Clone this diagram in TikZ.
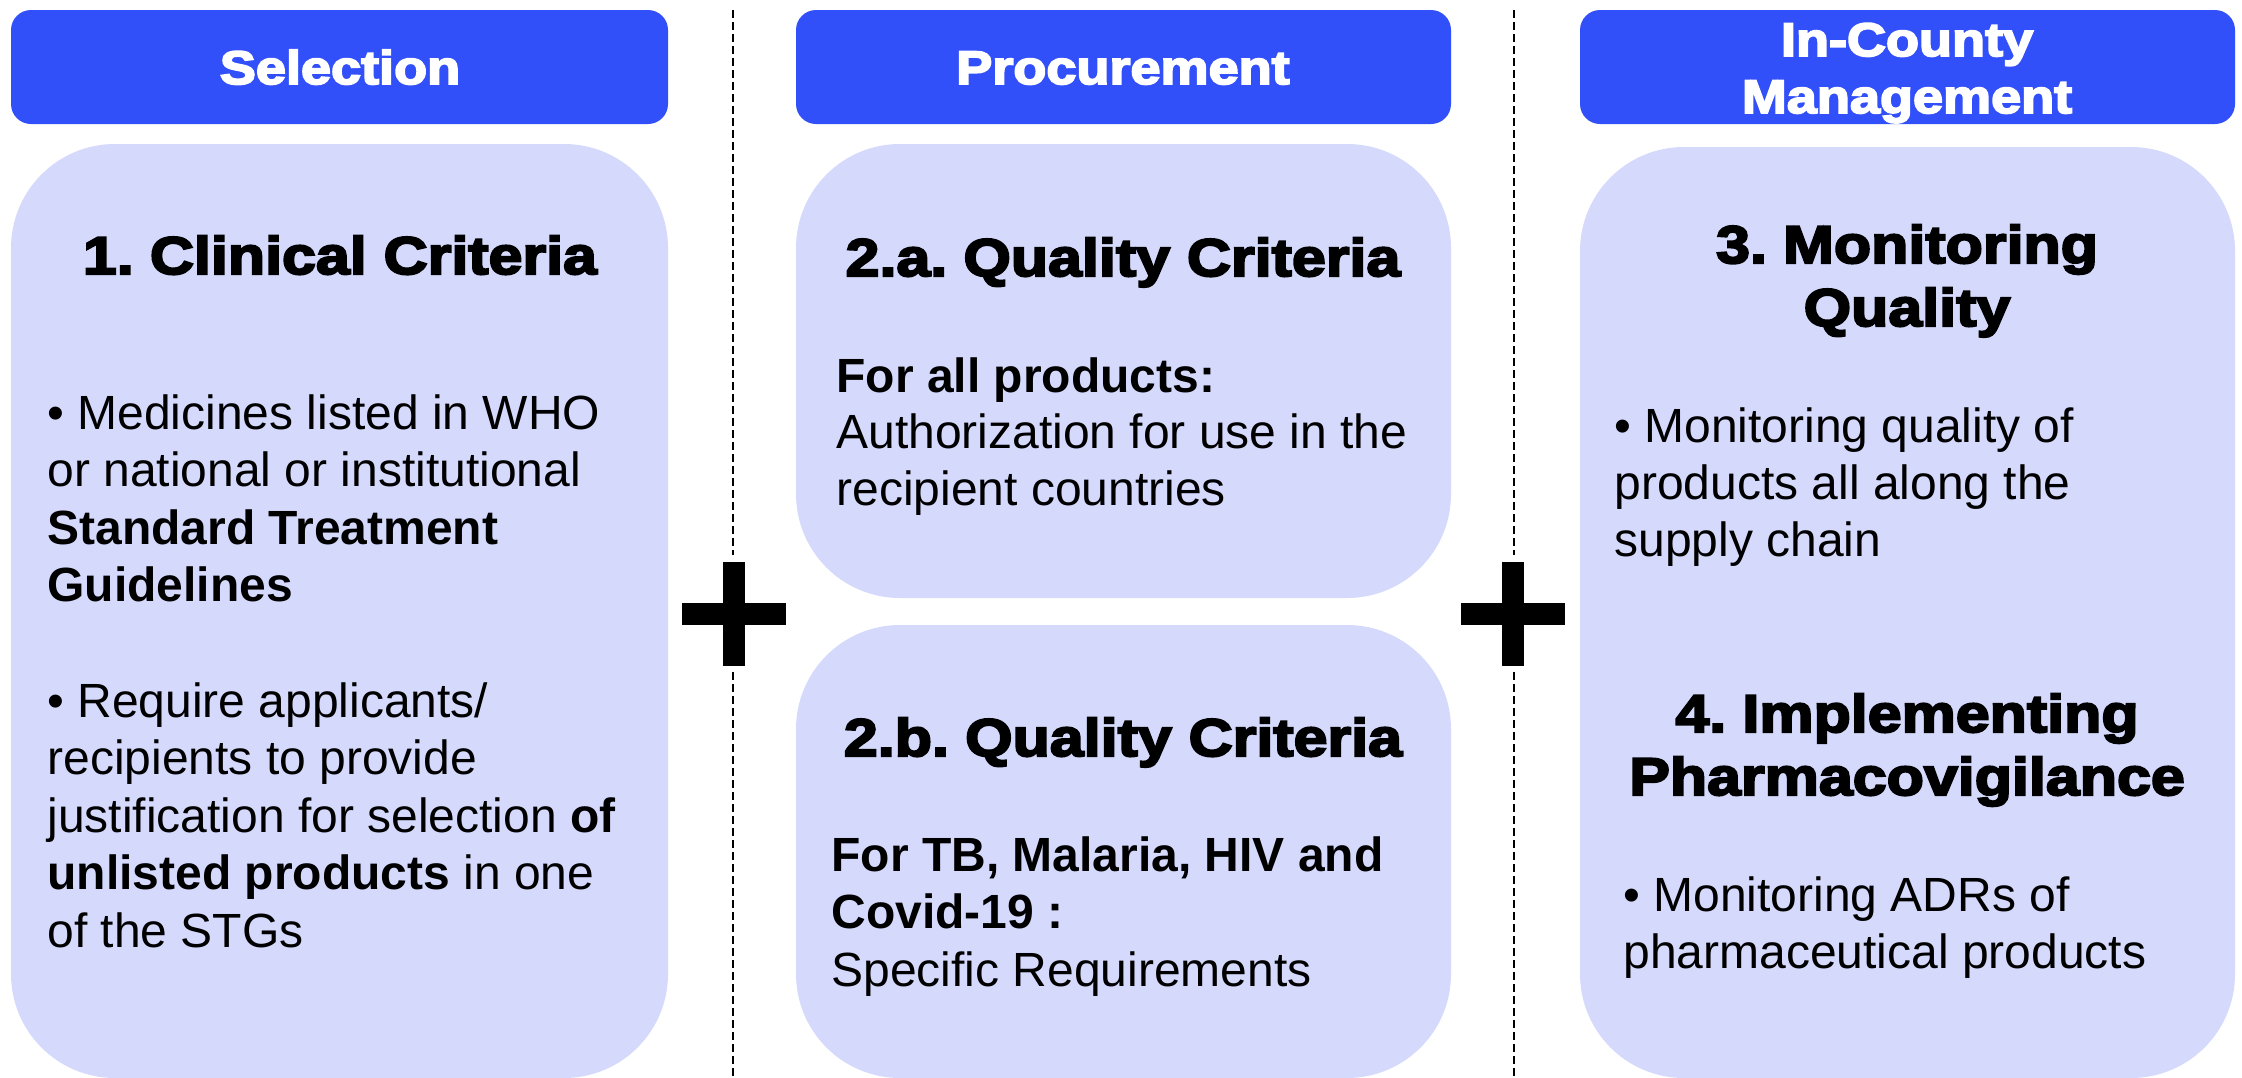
\documentclass[tikz,border=0pt]{standalone}
\usepackage{fontspec}
\setmainfont{Liberation Sans}
\newfontfamily\heavyfam{Liberation Sans}[BoldFeatures={FakeBold=4,FakeStretch=1.15}]
\definecolor{hdrblue}{HTML}{3250FA}
\definecolor{boxfill}{HTML}{D5DAFD}
\begin{document}
\begin{tikzpicture}[x=0.5pt,y=-0.5pt,
 hdr/.style={fill=hdrblue, rounded corners=10pt},
 panel/.style={fill=boxfill, rounded corners=52pt},
 hdrtext/.style={text=white, font=\heavyfam\bfseries\fontsize{23.5pt}{28pt}\selectfont, anchor=base, inner sep=0pt},
 ttl/.style={font=\heavyfam\bfseries\fontsize{26.5pt}{31pt}\selectfont, anchor=base, inner sep=0pt},
 body/.style={font=\fontsize{24pt}{29pt}\selectfont, anchor=base west, inner sep=0pt},
 sepline/.style={line width=0.75pt, dash pattern=on 4pt off 2pt},
 plusbar/.style={fill=black}]
\useasboundingbox (0,0) rectangle (2242,1077);
\fill[white] (0,0) rectangle (2242,1077);

% header boxes
\path[hdr] (11,10) rectangle (668,124);
\path[hdr] (796,10) rectangle (1451,124);
\path[hdr] (1580,10) rectangle (2235,124);

% panels
\path[panel] (11,144) rectangle (668,1078);
\path[panel] (796,144) rectangle (1451,598);
\path[panel] (796,625) rectangle (1451,1078);
\path[panel] (1580,147) rectangle (2235,1078);

% separators
\draw[sepline] (733,10) -- (733,555);
\draw[sepline] (733,672) -- (733,1077);
\draw[sepline] (1514,10) -- (1514,555);
\draw[sepline] (1514,672) -- (1514,1077);

% plus signs
\fill[plusbar] (723,562) rectangle (745,666);
\fill[plusbar] (682,603) rectangle (786,625);
\fill[plusbar] (1502,562) rectangle (1524,666);
\fill[plusbar] (1461,603) rectangle (1565,625);

% header texts
\node[hdrtext] (h1) at (340,84) {Selection};
\node[hdrtext] (h2) at (1123,84) {Procurement};
\node[hdrtext] (h3a) at (1907,56) {In-County};
\node[hdrtext] (h3b) at (1907,113) {Management};

% panel 1
\node[ttl] (t1) at (340,274) {1.\hspace{-0.12em} Clinical Criteria};
\node[body] (b1a) at (47,429) {• Medicines listed in WHO};
\node[body] (b1b) at (47,486.6) {or national or institutional};
\node[body] (b1c) at (47,544.2) {\bfseries Standard Treatment};
\node[body] (b1d) at (47,601.8) {\bfseries Guidelines};
\node[body] (b1e) at (47,717) {• Require applicants/};
\node[body] (b1f) at (47,774.6) {recipients to provide};
\node[body] (b1g) at (47,832.2) {justification for selection \textbf{of}};
\node[body] (b1h) at (47,889.8) {\textbf{unlisted products} in one};
\node[body] (b1i) at (47,947.4) {of the STGs};

% panel 2a
\node[ttl] (t2a) at (1123,276) {2.a.\hspace{-0.12em} Quality Criteria};
\node[body] (b2a1) at (836,392) {\bfseries For all products:};
\node[body] (b2a2) at (836,448) {Authorization for use in the};
\node[body] (b2a3) at (836,505) {recipient countries};

% panel 2b
\node[ttl] (t2b) at (1123,756) {2.b.\hspace{-0.12em} Quality Criteria};
\node[body] (b2b1) at (831,871) {\bfseries For TB, Malaria, HIV and};
\node[body] (b2b2) at (831,928) {\bfseries Covid-19 :};
\node[body] (b2b3) at (831,986) {Specific Requirements};

% panel 3
\node[ttl] (t3a) at (1907,263) {3.\hspace{-0.12em} Monitoring};
\node[ttl] (t3b) at (1907,326) {Quality};
\node[body] (b3a) at (1614,442) {• Monitoring quality of};
\node[body] (b3b) at (1614,499) {products all along the};
\node[body] (b3c) at (1614,556) {supply chain};
\node[ttl] (t4a) at (1907,732) {4.\hspace{-0.12em} Implementing};
\node[ttl] (t4b) at (1907,795) {Pharmacovigilance};
\node[body] (b4a) at (1623,911) {• Monitoring ADRs of};
\node[body] (b4b) at (1623,968) {pharmaceutical products};
\end{tikzpicture}
\end{document}
